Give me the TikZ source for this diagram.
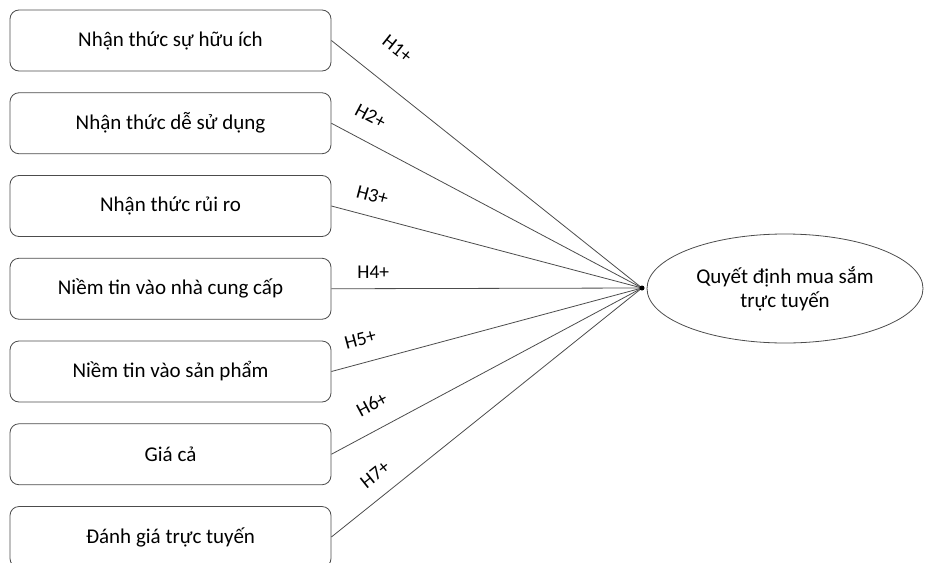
\documentclass[tikz,border=0pt]{standalone}
\usepackage{fontspec}
\setmainfont{Carlito}
\usetikzlibrary{shapes.geometric}

\begin{document}
\begin{tikzpicture}[x=1pt, y=-1pt,
    factor/.style={draw=black!70, line width=0.8pt, rounded corners=9pt,
      minimum width=321pt, minimum height=61pt, inner sep=0pt,
      font=\fontsize{21}{25}\selectfont},
    outcome/.style={draw=black!70, line width=0.8pt, ellipse,
      minimum width=276pt, minimum height=109pt, inner sep=0pt,
      align=center, font=\fontsize{21}{24}\selectfont},
    hyp/.style={font=\fontsize{19.5}{22}\selectfont, inner sep=1pt},
    link/.style={draw=black!70, line width=0.8pt}]
      \useasboundingbox (0,0) rectangle (925,562);
      \def\boxgap{82.75}

      \foreach \name [count=\i] in {Nhận thức sự hữu ích, Nhận thức dễ sử dụng,
          Nhận thức rủi ro, Niềm tin vào nhà cung cấp, Niềm tin vào sản phẩm,
          Giá cả, Đánh giá trực tuyến} {
        \node[factor] (f\i) at (170.5, {40.5 + (\i-1)*\boxgap}) {\name};
      }
      \node[outcome] (qd) at (785,288.5) {Quyết định mua sắm\\trực tuyến};
      \coordinate (hub) at (642,288);

      \foreach \p/\o [count=\i] in {0.143/27pt, 0.089/17pt, 0.115/13pt, 0.135/9pt,
          0.113/16pt, 0.168/17pt, 0.184/14pt} {
        \draw[link] (f\i.east) -- node[hyp, sloped, above=\o, pos=\p] (h\i) {H\i+} (hub);
      }
      \fill (hub) circle (2.5);
    \end{tikzpicture}
\end{document}
